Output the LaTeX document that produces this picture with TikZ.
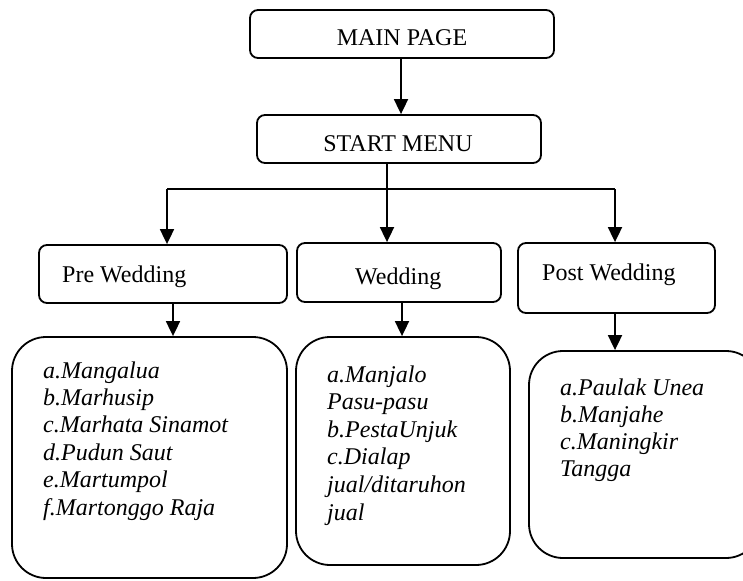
\documentclass[tikz,border=0pt]{standalone}
\usepackage{fontspec}
\setmainfont{Liberation Serif}
\usetikzlibrary{arrows.meta}
\begin{document}
\begin{tikzpicture}[x=1pt,y=-1pt,
  box/.style={draw, line width=1.8pt, rounded corners=8pt, inner sep=0pt},
  listbox/.style={draw, line width=1.8pt, rounded corners=34pt, inner sep=0pt},
  lbl/.style={font=\fontsize{24}{28}\selectfont, inner sep=0pt, anchor=base west},
  lbc/.style={font=\fontsize{24}{28}\selectfont, inner sep=0pt, anchor=base},
  itm/.style={font=\fontsize{24}{28}\selectfont\itshape, inner sep=0pt, anchor=base west},
  link/.style={line width=1.8pt},
  arr/.style={line width=1.8pt, -{Triangle[width=14pt,length=15pt]}}]
\useasboundingbox (0,0) rectangle (743,580);

% top boxes
\node[box, minimum width=304pt, minimum height=48pt] (main) at (402,34) {};
\node[lbc] (mainT) at (402,46) {MAIN PAGE};
\node[box, minimum width=284pt, minimum height=48pt] (start) at (399,139) {};
\node[lbc] (startT) at (398,152) {START MENU};

% phase boxes
\node[box, minimum width=248pt, minimum height=58pt] (pre) at (163,274) {};
\node[lbl] (preT) at (62,282) {Pre Wedding};
\node[box, minimum width=204pt, minimum height=59pt] (wed) at (399,272.5) {};
\node[lbl] (wedT) at (355,284) {Wedding};
\node[box, minimum width=197pt, minimum height=70pt] (post) at (616.5,278) {};
\node[lbl] (postT) at (542,280) {Post Wedding};

% detail boxes
\node[listbox, minimum width=275pt, minimum height=241pt] (preL) at (149.5,457.5) {};
\node[listbox, minimum width=214pt, minimum height=228pt] (wedL) at (403,451) {};
\node[listbox, minimum width=231pt, minimum height=207pt] (postL) at (644.5,454.5) {};

% detail lists
\foreach \t [count=\i] in {a.Mangalua, b.Marhusip, c.Marhata Sinamot, d.Pudun Saut, e.Martumpol, f.Martonggo Raja}
  \node[itm] (preI\i) at (43,{378+27.4*(\i-1)}) {\t};
\foreach \t [count=\i] in {a.Manjalo, Pasu-pasu, b.PestaUnjuk, c.Dialap, jual/ditaruhon, jual}
  \node[itm] (wedI\i) at (327,{382+27.6*(\i-1)}) {\t};
\foreach \t [count=\i] in {a.Paulak Unea, b.Manjahe, c.Maningkir, Tangga}
  \node[itm] (postI\i) at (560,{395+27.3*(\i-1)}) {\t};

% connectors
\draw[arr] ([xshift=-1pt]main.south) -- ([xshift=-1pt]main.south |- start.north);
\coordinate (split) at (387,189);
\coordinate (jl) at (167,189);
\coordinate (jr) at (615,189);
\draw[link] (start.south -| split) -- (split);
\draw[link] (jl) -- (jr);
\draw[arr] (jl) -- (jl |- pre.north);
\draw[arr] (split) -- (split |- wed.north);
\draw[arr] (jr) -- (jr |- post.north);

\draw[arr] ([xshift=10pt]pre.south) -- ([xshift=10pt]pre.south |- preL.north);
\draw[arr] ([xshift=3pt]wed.south) -- ([xshift=3pt]wed.south |- wedL.north);
\draw[arr] ([xshift=-1.5pt]post.south) -- ([xshift=-1.5pt]post.south |- postL.north);
\end{tikzpicture}
\end{document}
